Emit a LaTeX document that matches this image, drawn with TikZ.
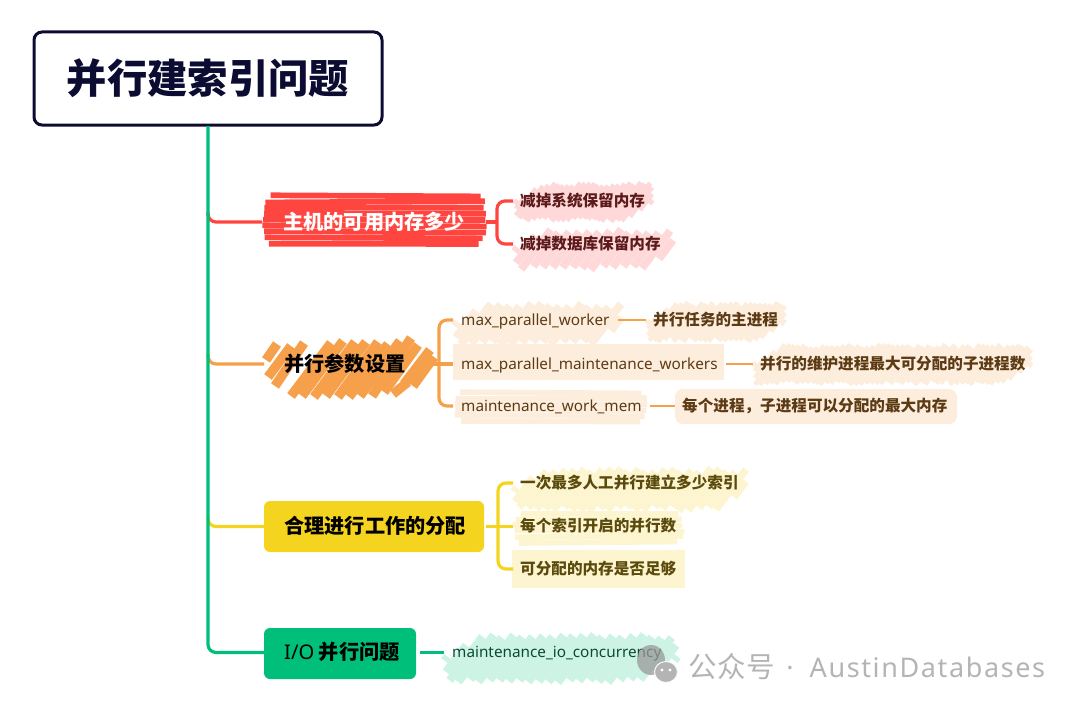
\documentclass[tikz,border=0pt]{standalone}
\usepackage{fontspec}
\setmainfont{Noto Sans CJK SC}
\newfontfamily\latinfont{Noto Sans}
\newfontfamily\markfont[LetterSpace=6]{Noto Sans}
\newfontfamily\markcjk[LetterSpace=3]{Noto Sans CJK SC}
\newcommand{\fsize}[1]{\fontsize{#1}{#1}\selectfont}
\definecolor{rootink}{HTML}{0C0C33}
\definecolor{redline}{HTML}{FF4540}
\definecolor{orangeline}{HTML}{F7A04B}
\definecolor{yellowline}{HTML}{F5D41F}
\definecolor{greenline}{HTML}{00BF7A}
\definecolor{redpale}{HTML}{FFD9D9}
\definecolor{orangepale}{HTML}{FDEDDD}
\definecolor{yellowpale}{HTML}{FDF5CF}
\definecolor{greenpale}{HTML}{CDF3E5}
\definecolor{redink}{HTML}{5C1A1A}
\definecolor{orangeink}{HTML}{5C3A14}
\definecolor{yellowink}{HTML}{5A4A0C}
\definecolor{greenink}{HTML}{0B4A36}
\definecolor{markgray}{HTML}{B4B4B4}
\tikzset{
    topic/.style={anchor=west,font=\fsize{20.2}\bfseries,inner xsep=20pt,inner ysep=0pt,text height=17pt,text depth=3pt},
    detail/.style={anchor=west,font=\fsize{15.6}\bfseries,inner xsep=7pt,inner ysep=0pt,text height=13pt,text depth=3pt},
    param/.style={anchor=west,font=\fsize{15.3}\latinfont,inner xsep=8pt,inner ysep=0pt,text height=13pt,text depth=3pt},
    branch/.style={line width=3.2pt,rounded corners=8pt},
    twig/.style={line width=2pt},
}
% diagonal scribble: x0,y0,x1,y1,colour,step,width
\newcommand{\hatchdiag}[7]{
    \pgfmathtruncatemacro{\hatchn}{(#3-#1)/#6}
    \foreach \hi in {0,...,\hatchn}{
        \pgfmathsetmacro{\hx}{#1+\hi*#6}
        \pgfmathsetmacro{\hy}{max(2,min((#4-#2)/2-rnd*4,min((\hx-#1)/0.75,(#3-\hx)/0.75)))}
        \pgfmathsetmacro{\hc}{(#2+#4)/2}
        \draw[#5,line width=#7pt] (\hx-0.75*\hy,\hc+\hy)--(\hx+0.75*\hy,\hc-\hy);
    }
}
% flat scribble: x0,y0,x1,y1,colour,step,width
\newcommand{\hatchflat}[7]{
    \pgfmathtruncatemacro{\hatchn}{(#4-#2-#7)/#6}
    \foreach \hi in {0,...,\hatchn}{
        \pgfmathsetmacro{\hy}{#2+#7/2+\hi*#6}
        \pgfmathsetmacro{\hin}{6*(2*abs(\hi/\hatchn-0.5))^4}
        \pgfmathsetmacro{\ha}{#1+\hin+rnd*3}
        \pgfmathsetmacro{\hb}{#3-\hin-rnd*3}
        \pgfmathsetmacro{\ht}{rnd*1.6-0.8}
        \draw[#5,line width=#7pt] (\ha,\hy+\ht)--(\hb,\hy-\ht);
    }
}
\begin{document}
\begin{tikzpicture}[x=1pt,y=-1pt]
    \useasboundingbox (0,0) rectangle (1080,709);
    \pgfmathsetseed{7}
    % scribbled fills
    \hatchflat{262}{193}{487}{250}{redline}{6}{5.7}
    \hatchdiag{516}{182}{652}{222}{redpale}{5}{4.8}
    \hatchdiag{516}{229}{673}{270}{redpale}{10}{7.8}
    \foreach \xa/\ya/\xb/\yb in {266/360/277/344,268/377/291/346,275/386/304/343,291/396/331/343,302/396/343/341,314/397/355/342,326/396/366/342,338/397/378/342,349/397/388/344,360/396/400/341,372/396/411/338,384/392/418/345,393/394/408/382,404/384/430/350,413/386/434/357}
        \draw[orangeline,line width=9.5pt] (\xa,\ya)--(\xb,\yb);
    \hatchdiag{456}{303}{621}{345}{orangepale}{10}{8}
    \fill[orangepale] (453,344) rectangle (724,380);
    \hatchflat{453}{390}{648}{426}{orangepale}{5.7}{5.6}
    \hatchdiag{648}{302}{785}{342}{orangepale}{5}{4.8}
    \hatchdiag{755}{344}{1031}{385}{orangepale}{5}{4.8}
    \fill[orangepale,rounded corners=8pt] (675,389) rectangle (957,424);
    \hatchdiag{515}{468}{746}{511}{yellowpale}{9}{7.2}
    \hatchflat{512}{511}{685}{546}{yellowpale}{5.7}{5.6}
    \fill[yellowpale] (512,550) rectangle (685,588);
    \hatchdiag{446}{634}{676}{683}{greenpale}{10}{8}
    \fill[yellowline,rounded corners=6pt] (264,501) rectangle (484,552);
    \fill[greenline,rounded corners=6pt] (264,628) rectangle (416,679);

    \node[draw=rootink,line width=3pt,rounded corners=8pt,text=rootink,font=\fsize{40.3}\bfseries,minimum width=348pt,minimum height=93pt,inner sep=0pt] (root) at (208,78.5) {并行建索引问题};

    \node[topic,inner xsep=21pt,text=white] (mem) at (262,222) {主机的可用内存多少};
    \node[detail,text=redink] (memA) at (513,201) {减掉系统保留内存};
    \node[detail,text=redink] (memB) at (513,244) {减掉数据库保留内存};

    \node[topic,text=black] (par) at (264,364) {并行参数设置};
    \node[param,text=orangeink] (parA) at (453,320) {max\_parallel\_worker};
    \node[param,text=orangeink] (parB) at (453,364) {max\_parallel\_maintenance\_workers};
    \node[param,text=orangeink] (parC) at (453,406) {maintenance\_work\_mem};
    \node[detail,text=orangeink] (parAx) at (646,320) {并行任务的主进程};
    \node[detail,text=orangeink] (parBx) at (753,364) {并行的维护进程最大可分配的子进程数};
    \node[detail,text=orangeink] (parCx) at (675,406) {每个进程，子进程可以分配的最大内存};

    \node[topic,text=black] (job) at (264,526.5) {合理进行工作的分配};
    \node[detail,text=yellowink] (jobA) at (513,483) {一次最多人工并行建立多少索引};
    \node[detail,text=yellowink] (jobB) at (513,526.5) {每个索引开启的并行数};
    \node[detail,text=yellowink] (jobC) at (513,569) {可分配的内存是否足够};

    \node[topic,text=black] (io) at (264,652.5) {{\latinfont\mdseries I/O} 并行问题};
    \node[param,text=greenink] (ioA) at (444,652.5) {maintenance\_io\_concurrency};

    % trunk and branches
    \coordinate (trunk) at (208,126);
    \coordinate (trunkM) at (208,212);
    \coordinate (trunkP) at (208,354);
    \coordinate (trunkJ) at (208,516);
    \coordinate (forkM) at (497,222);
    \coordinate (forkP) at (439,364);
    \coordinate (forkJ) at (498,526.5);
    \draw[branch,redline] (trunkM) |- (mem.west);
    \draw[branch,orangeline] (trunkP) |- (par.west);
    \draw[branch,yellowline] (trunkJ) |- (job.west);
    \draw[branch,greenline] (trunk) |- (io.west);

    \draw[branch,redline] (486,222) -- (forkM);
    \draw[branch,redline] (memA.west) -| (forkM) |- (memB.west);
    \draw[branch,orangeline] (431,364) -- (parB.west);
    \draw[branch,orangeline] (parA.west) -| (forkP) |- (parC.west);
    \draw[branch,yellowline] (job.east) -- (jobB.west);
    \draw[branch,yellowline] (jobA.west) -| (forkJ) |- (jobC.west);
    \draw[branch,greenline] (io.east) -- (ioA.west);

    \draw[twig,orangeline] (parA.east) -- (parAx.west);
    \draw[twig,orangeline] (parB.east) -- (parBx.west);
    \draw[twig,orangeline] (parC.east) -- (parCx.west);

    % watermark
    \fill[markgray!85!black,opacity=.75] (651,660) ellipse [x radius=14,y radius=15];
    \fill[markgray,draw=white!80!greenpale,line width=1pt] (666,672) ellipse [x radius=11.5,y radius=10.5];
    \fill[white] (662,670) circle [radius=1.6];
    \fill[white] (670,670) circle [radius=1.6];
    \node[anchor=west,inner sep=0pt,text=markgray,font=\fsize{28.5}] (mark) at (688,667) {{\markcjk 公众号}\hspace{11pt}{\fsize{27}\markfont ·\hspace{16pt}AustinDatabases}};
\end{tikzpicture}
\end{document}
